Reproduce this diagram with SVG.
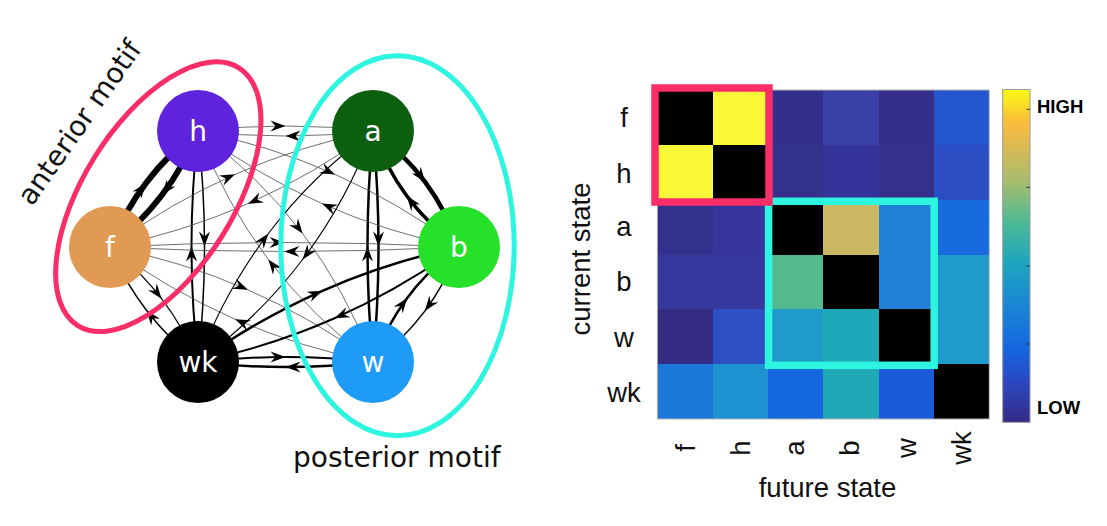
<svg xmlns="http://www.w3.org/2000/svg" width="1107" height="526" viewBox="0 0 1107 526">
<defs>
<marker id="arr" viewBox="-16 -6 17 12" refX="0" refY="0" markerWidth="17" markerHeight="12" markerUnits="userSpaceOnUse" orient="auto">
<path d="M0,0 L-15,-5.5 L-10,0 L-15,5.5 Z" fill="#000"/>
</marker>
<linearGradient id="parula" x1="0" y1="1" x2="0" y2="0">
<stop offset="0" stop-color="#352a87"/>
<stop offset="0.12" stop-color="#2b47c0"/>
<stop offset="0.22" stop-color="#1466df"/>
<stop offset="0.35" stop-color="#1a86d5"/>
<stop offset="0.48" stop-color="#1ea6bd"/>
<stop offset="0.6" stop-color="#4cb996"/>
<stop offset="0.72" stop-color="#a6bc6f"/>
<stop offset="0.82" stop-color="#d6ba55"/>
<stop offset="0.9" stop-color="#fcbb3c"/>
<stop offset="1" stop-color="#f9fa14"/>
</linearGradient>
</defs>
<style>
.e{fill:none;stroke:#000;marker-mid:url(#arr)}
.t{stroke:#4a4a4a;stroke-width:0.8}
.nl{font-family:"DejaVu Sans",sans-serif;font-size:28px;fill:#fff;text-anchor:middle}
.ml{font-family:"DejaVu Sans",sans-serif;font-size:28px;fill:#111}
.ax{font-family:"Liberation Sans",Arial,sans-serif;font-size:27.5px;fill:#111;text-anchor:middle}
.cb{font-family:"Liberation Sans",Arial,sans-serif;font-size:18.5px;font-weight:bold;fill:#000}
.cell{shape-rendering:crispEdges}
</style>
<rect width="1107" height="526" fill="#fff"/>

<g id="connectors">
<path class="e" stroke-width="6" d="M110,247 Q124.03,211.96 146.03,182.96 Q168.03,153.96 198,131"/>
<path class="e" stroke-width="6" d="M198,131 Q183.97,166.04 161.97,195.04 Q139.97,224.04 110,247"/>
<path class="e t" d="M198,131 Q241.75,126 285.5,126 Q329.25,126 373,131"/>
<path class="e t" d="M373,131 Q329.25,136 285.5,136 Q241.75,136 198,131"/>
<path class="e" stroke-width="4.5" d="M373,131 Q403.74,153.15 425.24,182.15 Q446.74,211.15 459,247"/>
<path class="e" stroke-width="3.5" d="M459,247 Q428.26,224.85 406.76,195.85 Q385.26,166.85 373,131"/>
<path class="e" stroke-width="1.5" d="M459,247 Q446.31,282.34 424.81,311.09 Q403.31,339.84 373,362"/>
<path class="e" stroke-width="2.5" d="M373,362 Q385.69,326.66 407.19,297.91 Q428.69,269.16 459,247"/>
<path class="e" stroke-width="2.5" d="M373,362 Q329.25,367 285.5,367 Q241.75,367 198,362"/>
<path class="e" stroke-width="2" d="M198,362 Q241.75,357 285.5,357 Q329.25,357 373,362"/>
<path class="e" stroke-width="1.5" d="M198,362 Q168.46,339.02 146.46,310.27 Q124.46,281.52 110,247"/>
<path class="e" stroke-width="1.2" d="M110,247 Q139.54,269.98 161.54,298.73 Q183.54,327.48 198,362"/>
<path class="e" stroke-width="1.5" d="M198,131 Q204.5,188.75 204.5,246.5 Q204.5,304.25 198,362"/>
<path class="e" stroke-width="2" d="M198,362 Q191.5,304.25 191.5,246.5 Q191.5,188.75 198,131"/>
<path class="e" stroke-width="2.5" d="M373,131 Q378.5,188.75 378.5,246.5 Q378.5,304.25 373,362"/>
<path class="e" stroke-width="2.5" d="M373,362 Q367.5,304.25 367.5,246.5 Q367.5,188.75 373,131"/>
<path class="e t" d="M110,247 Q197.25,242.5 284.5,242.5 Q371.75,242.5 459,247"/>
<path class="e t" d="M459,247 Q371.75,251.5 284.5,251.5 Q197.25,251.5 110,247"/>
<path class="e t" d="M198,131 Q269.75,145.38 335,174.38 Q400.25,203.38 459,247"/>
<path class="e t" d="M459,247 Q387.25,232.62 322,203.62 Q256.75,174.62 198,131"/>
<path class="e t" d="M110,247 Q169.29,203.36 235.04,174.36 Q300.79,145.36 373,131"/>
<path class="e t" d="M373,131 Q313.71,174.64 247.96,203.64 Q182.21,232.64 110,247"/>
<path class="e t" d="M110,247 Q182.16,261.09 247.91,289.84 Q313.66,318.59 373,362"/>
<path class="e t" d="M373,362 Q300.84,347.91 235.09,319.16 Q169.34,290.41 110,247"/>
<path class="e" stroke-width="2.5" d="M198,362 Q257.2,319.52 322.45,290.77 Q387.7,262.02 459,247"/>
<path class="e" stroke-width="2" d="M459,247 Q399.8,289.48 334.55,318.23 Q269.3,346.98 198,362"/>
<path class="e t" d="M198,131 Q258.89,175.77 302.64,233.52 Q346.39,291.27 373,362"/>
<path class="e t" d="M373,362 Q312.11,317.23 268.36,259.48 Q224.61,201.73 198,131"/>
<path class="e" stroke-width="1.1" d="M198,362 Q224.61,291.27 268.36,233.52 Q312.11,175.77 373,131"/>
<path class="e" stroke-width="1.1" d="M373,131 Q346.39,201.73 302.64,259.48 Q258.89,317.23 198,362"/>
</g>

<g id="node-h"><circle cx="198" cy="131" r="41" fill="#5f22dd"/><text class="nl" x="198" y="140.5">h</text></g>
<g id="node-f"><circle cx="110" cy="247" r="41" fill="#e19a53"/><text class="nl" x="110" y="256.5">f</text></g>
<g id="node-wk"><circle cx="198" cy="362" r="41" fill="#000"/><text class="nl" x="198" y="371.5">wk</text></g>
<g id="node-a"><circle cx="373" cy="131" r="41" fill="#0d5f10"/><text class="nl" x="373" y="140.5">a</text></g>
<g id="node-b"><circle cx="459" cy="247" r="41" fill="#26e12a"/><text class="nl" x="459" y="256.5">b</text></g>
<g id="node-w"><circle cx="373" cy="362" r="41" fill="#1e9bf7"/><text class="nl" x="373" y="371.5">w</text></g>

<g id="anterior-motif">
<ellipse cx="158.3" cy="196.7" rx="152" ry="75" transform="rotate(-58 158.3 196.7)" fill="none" stroke="#f92d67" stroke-width="5"/>
<text class="ml" x="32" y="207" transform="rotate(-55 32 207)">anterior motif</text>
</g>
<g id="posterior-motif">
<ellipse cx="397.5" cy="245.8" rx="116.7" ry="190" fill="none" stroke="#2ef5e0" stroke-width="5"/>
<text class="ml" x="293" y="467">posterior motif</text>
</g>

<g id="heatmap">
<g class="cell">
<rect x="657.4" y="90" width="55.8" height="55.3" fill="#000"/>
<rect x="712.7" y="90" width="55.8" height="55.3" fill="#f8f838"/>
<rect x="768" y="90" width="55.8" height="55.3" fill="#342f8a"/>
<rect x="823.4" y="90" width="55.8" height="55.3" fill="#3a40a6"/>
<rect x="878.7" y="90" width="55.8" height="55.3" fill="#352f89"/>
<rect x="934" y="90" width="55.3" height="55.3" fill="#2456cf"/>

<rect x="657.4" y="144.8" width="55.8" height="55.3" fill="#f8f838"/>
<rect x="712.7" y="144.8" width="55.8" height="55.3" fill="#000"/>
<rect x="768" y="144.8" width="55.8" height="55.3" fill="#34318c"/>
<rect x="823.4" y="144.8" width="55.8" height="55.3" fill="#343399"/>
<rect x="878.7" y="144.8" width="55.8" height="55.3" fill="#35318b"/>
<rect x="934" y="144.8" width="55.3" height="55.3" fill="#2b4ec4"/>

<rect x="657.4" y="199.7" width="55.8" height="55.3" fill="#33318c"/>
<rect x="712.7" y="199.7" width="55.8" height="55.3" fill="#36359b"/>
<rect x="768" y="199.7" width="55.8" height="55.3" fill="#000"/>
<rect x="823.4" y="199.7" width="55.8" height="55.3" fill="#ccb862"/>
<rect x="878.7" y="199.7" width="55.8" height="55.3" fill="#1f80d6"/>
<rect x="934" y="199.7" width="55.3" height="55.3" fill="#176bde"/>

<rect x="657.4" y="254.5" width="55.8" height="55.3" fill="#37389e"/>
<rect x="712.7" y="254.5" width="55.8" height="55.3" fill="#37389e"/>
<rect x="768" y="254.5" width="55.8" height="55.3" fill="#53ba8f"/>
<rect x="823.4" y="254.5" width="55.8" height="55.3" fill="#000"/>
<rect x="878.7" y="254.5" width="55.8" height="55.3" fill="#1f80d6"/>
<rect x="934" y="254.5" width="55.3" height="55.3" fill="#1f9bcb"/>

<rect x="657.4" y="309.3" width="55.8" height="55.3" fill="#342c83"/>
<rect x="712.7" y="309.3" width="55.8" height="55.3" fill="#2d4fc3"/>
<rect x="768" y="309.3" width="55.8" height="55.3" fill="#1e9bcb"/>
<rect x="823.4" y="309.3" width="55.8" height="55.3" fill="#1ea8b9"/>
<rect x="878.7" y="309.3" width="55.8" height="55.3" fill="#000"/>
<rect x="934" y="309.3" width="55.3" height="55.3" fill="#1f9bcb"/>

<rect x="657.4" y="364.2" width="55.8" height="54.8" fill="#1b78d8"/>
<rect x="712.7" y="364.2" width="55.8" height="54.8" fill="#1e92d1"/>
<rect x="768" y="364.2" width="55.8" height="54.8" fill="#1568df"/>
<rect x="823.4" y="364.2" width="55.8" height="54.8" fill="#21a8b6"/>
<rect x="878.7" y="364.2" width="55.8" height="54.8" fill="#1a5bd8"/>
<rect x="934" y="364.2" width="55.3" height="54.8" fill="#000"/>
</g>
<rect x="657.4" y="90" width="331.9" height="329" fill="none" stroke="#b4b4b4" stroke-width="1"/>
<rect x="768.6" y="201.3" width="165.6" height="164" fill="none" stroke="#2ef5e0" stroke-width="7.5"/>
<rect x="655" y="88" width="114" height="114" fill="none" stroke="#f92d67" stroke-width="7.5"/>

<text class="ax" x="624" y="127">f</text>
<text class="ax" x="624" y="183">h</text>
<text class="ax" x="624" y="236">a</text>
<text class="ax" x="624" y="291">b</text>
<text class="ax" x="624" y="347">w</text>
<text class="ax" x="624" y="402">wk</text>

<text class="ax" transform="translate(695,448) rotate(-90)">f</text>
<text class="ax" transform="translate(750,448) rotate(-90)">h</text>
<text class="ax" transform="translate(804,448) rotate(-90)">a</text>
<text class="ax" transform="translate(859,448) rotate(-90)">b</text>
<text class="ax" transform="translate(916,448) rotate(-90)">w</text>
<text class="ax" transform="translate(971,448) rotate(-90)">wk</text>

<text class="ax" transform="translate(590,259) rotate(-90)">current state</text>
<text class="ax" x="827.5" y="497">future state</text>
</g>

<g id="colorbar">
<rect x="1002.7" y="89.5" width="27.3" height="332.8" fill="url(#parula)" stroke="#9a9a9a" stroke-width="1"/>
<g stroke="#333" stroke-width="1">
<line x1="1026.5" y1="109.3" x2="1030" y2="109.3"/>
<line x1="1026.5" y1="187.3" x2="1030" y2="187.3"/>
<line x1="1026.5" y1="266" x2="1030" y2="266"/>
<line x1="1026.5" y1="344" x2="1030" y2="344"/>
</g>
<text class="cb" x="1037" y="113">HIGH</text>
<text class="cb" x="1037" y="414">LOW</text>
</g>
</svg>
